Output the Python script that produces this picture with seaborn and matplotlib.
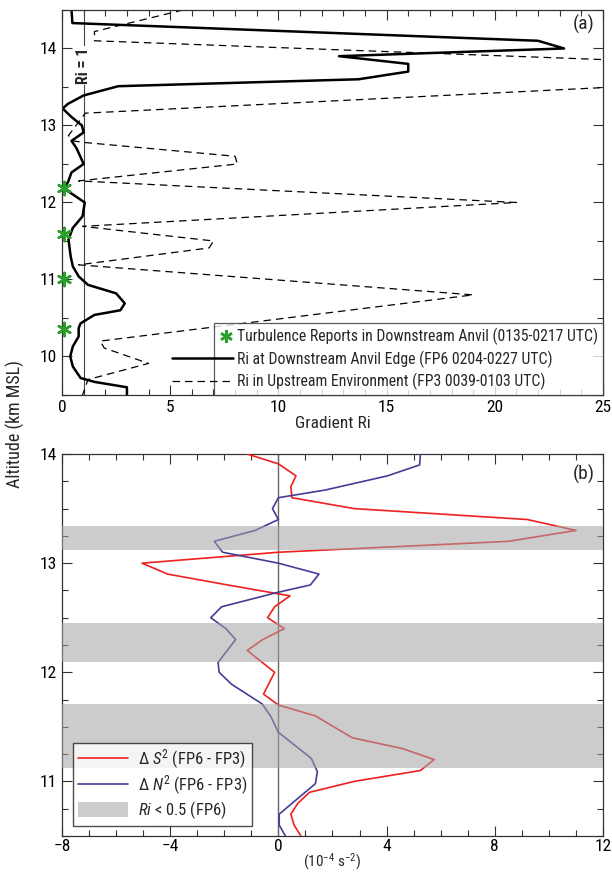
import numpy as np
import pandas as pd
import matplotlib
matplotlib.use("Agg")
import matplotlib.pyplot as plt
from matplotlib.lines import Line2D
from matplotlib.patches import Patch
from matplotlib.ticker import MultipleLocator
from matplotlib.legend_handler import HandlerBase, HandlerLine2D
from matplotlib import font_manager
import seaborn as sns

# ---------------- data: panel (a) ----------------
fp6_ri = [0.44, 0.48, 22.0, 23.2, 12.8, 16.0, 16.0, 13.7, 2.6, 1.0, 0.27, 0.03, 0.44, 0.92, 1.0,
          0.44, 0.68, 1.0, 0.44, 0.27, 0.05, 1.05, 0.95, 0.5, 0.3, 0.4, 0.5, 0.77, 1.2, 2.5, 2.9,
          2.7, 1.5, 0.86, 0.77, 0.77, 0.5, 0.38, 0.5, 0.86, 1.5, 3.0, 3.0]
fp6_alt = [14.5, 14.33, 14.1, 14.0, 13.9, 13.8, 13.7, 13.6, 13.51, 13.39, 13.28, 13.22, 13.11, 13.0, 12.91,
           12.8, 12.7, 12.5, 12.39, 12.26, 12.19, 12.0, 11.82, 11.67, 11.52, 11.3, 11.17, 11.04, 10.93, 10.82, 10.69,
           10.6, 10.54, 10.43, 10.37, 10.26, 10.13, 10.0, 9.87, 9.72, 9.67, 9.6, 9.5]

fp3_ri = [5.6, 1.5, 1.5, 40.0, 1.08, 0.3, 0.5, 1.0, 8.0, 8.1, 0.77, 21.0, 0.95, 7.0, 6.8, 0.77,
          19.0, 1.77, 1.95, 4.0, 1.2, 0.95]
fp3_alt = [14.5, 14.22, 14.1, 13.7, 13.16, 12.87, 12.8, 12.78, 12.6, 12.5, 12.28, 12.0, 11.69, 11.5, 11.41, 11.19,
           10.8, 10.2, 10.11, 9.91, 9.7, 9.5]

turb_ri = [0.1, 0.1, 0.1, 0.1]
turb_alt = [12.19, 11.59, 11.0, 10.36]

# ---------------- data: panel (b) ----------------
ds2_val = [-1.15, 0.0, 0.65, 0.46, 0.5, 2.8, 9.2, 11.0, 8.5, 0.0, -5.04, -4.1, -1.87, 0.43, -0.14, -0.4,
           0.22, -0.58, -1.15, -0.14, -0.55, 0.0, 1.37, 2.73, 4.6, 5.76, 5.25, 2.8, 1.15, 0.72, 0.46, 0.58, 0.83]
ds2_alt = [14.0, 13.91, 13.8, 13.7, 13.6, 13.5, 13.4, 13.3, 13.2, 13.1, 13.0, 12.9, 12.8, 12.7, 12.6, 12.5,
           12.4, 12.3, 12.2, 12.0, 11.8, 11.7, 11.6, 11.4, 11.3, 11.2, 11.1, 11.0, 10.9, 10.8, 10.7, 10.6, 10.5]

dn2_val = [5.25, 5.22, 4.03, 1.73, 0.0, -0.22, 0.0, -0.86, -2.37, -2.06, 0.0, 1.5, 1.18, -0.07, -2.1, -2.5,
           -1.94, -1.58, -2.23, -2.19, -1.73, -0.6, -0.29, 0.0, 1.22, 1.44, 1.37, 0.03, 0.03, 0.26]
dn2_alt = [14.0, 13.9, 13.8, 13.67, 13.6, 13.5, 13.4, 13.3, 13.2, 13.1, 13.0, 12.9, 12.8, 12.73, 12.6, 12.5,
           12.4, 12.3, 12.09, 12.0, 11.89, 11.71, 11.6, 11.45, 11.21, 11.09, 10.98, 10.7, 10.6, 10.5]

band_lo = [13.12, 12.09, 11.12]
band_hi = [13.34, 12.45, 11.71]

# ---------------- style ----------------
sns.set_style("ticks")
names = {f.name for f in font_manager.fontManager.ttflist}
fam = "DejaVu Sans"
for cand in ["Liberation Sans Narrow", "DejaVu Sans Condensed", "Roboto Condensed", "Liberation Sans"]:
    if cand in names:
        fam = cand
        break
plt.rcParams["font.family"] = [fam, "DejaVu Sans"]
plt.rcParams["mathtext.fontset"] = "custom"
plt.rcParams["mathtext.rm"] = fam
plt.rcParams["mathtext.it"] = fam + ":italic"
plt.rcParams["axes.linewidth"] = 0.9


class LongLine(HandlerBase):
    """Legend line that extends to the left of the (short) handle box."""
    def __init__(self, extra, **kw):
        super().__init__(**kw)
        self.extra = extra

    def create_artists(self, legend, orig_handle, xdescent, ydescent, width, height, fontsize, trans):
        y = height / 2 - ydescent
        line = Line2D([-xdescent - self.extra, -xdescent + width], [y, y])
        self.update_prop(line, orig_handle, legend)
        line.set_transform(trans)
        return [line]


class LeftMarker(HandlerLine2D):
    def get_xdata(self, legend, xdescent, ydescent, width, height, fontsize):
        xd = np.array([-xdescent, -xdescent + width])
        return xd, np.array([-xdescent + 0.5 * width])


fig = plt.figure(figsize=(6.12, 8.75), dpi=100)
axa = fig.add_axes([0.1013, 0.5486, 0.884, 0.44])
axb = fig.add_axes([0.1013, 0.0446, 0.884, 0.4365])

TICKFS = 12.5
for ax in (axa, axb):
    ax.tick_params(which="both", direction="in", top=True, right=True, colors="#333333",
                   labelcolor="black", labelsize=TICKFS, width=0.8)
    ax.tick_params(which="major", length=7)
    ax.tick_params(which="minor", length=4)
    for s in ax.spines.values():
        s.set_color("#333333")

# ---------- panel (a) ----------
dfa6 = pd.DataFrame({"ri": fp6_ri, "alt": fp6_alt})
dfa3 = pd.DataFrame({"ri": fp3_ri, "alt": fp3_alt})
sns.lineplot(data=dfa6, x="ri", y="alt", orient="y", sort=False, estimator=None,
             color="black", lw=1.8, ax=axa)
sns.lineplot(data=dfa3, x="ri", y="alt", orient="y", sort=False, estimator=None,
             color="black", lw=0.9, ax=axa, dashes=False, linestyle=(0, (6, 4)))
axa.axvline(1, color="#444444", lw=0.8, zorder=1)
axa.text(1, 13.78, "Ri = 1", rotation=90, ha="center", va="center", fontsize=11.5,
         fontweight="bold", bbox=dict(facecolor="white", edgecolor="none", pad=0.8))
axa.scatter(turb_ri, turb_alt, marker=(6, 2, 0), s=90, color="#2ca02c", lw=1.8, zorder=5, clip_on=False)
axa.set_xlim(0, 25)
axa.set_ylim(9.5, 14.5)
axa.xaxis.set_major_locator(MultipleLocator(5))
axa.xaxis.set_minor_locator(MultipleLocator(1))
axa.yaxis.set_major_locator(MultipleLocator(1))
axa.yaxis.set_minor_locator(MultipleLocator(0.5))
axa.set_xlabel("Gradient Ri", fontsize=12.5, labelpad=1)
axa.set_ylabel("")
axa.text(0.985, 0.987, "(a)", transform=axa.transAxes, ha="right", va="top", fontsize=14)

h_turb = Line2D([], [], marker=(6, 2, 0), color="#2ca02c", lw=0, markersize=9, markeredgewidth=1.8)
h_fp6 = Line2D([], [], color="black", lw=1.8)
h_fp3 = Line2D([], [], color="black", lw=0.9, linestyle=(0, (6, 4)))
la = ["Turbulence Reports in Downstream Anvil (0135-0217 UTC)",
      "Ri at Downstream Anvil Edge (FP6 0204-0227 UTC)",
      "Ri in Upstream Environment (FP3 0039-0103 UTC)"]
lga = axa.legend([h_turb, h_fp6, h_fp3], la, loc="lower right", fontsize=11.3, frameon=True,
                 fancybox=False, borderaxespad=0.0, handlelength=0.9, handletextpad=0.25,
                 labelspacing=0.33, borderpad=0.3, alignment="right",
                 handler_map={h_turb: LeftMarker(numpoints=1),
                              h_fp6: LongLine(34), h_fp3: LongLine(34)})
lga.get_frame().set_edgecolor("#333333")
lga.get_frame().set_linewidth(0.9)

# ---------- panel (b) ----------
dfs = pd.DataFrame({"v": ds2_val, "alt": ds2_alt})
dfn = pd.DataFrame({"v": dn2_val, "alt": dn2_alt})
sns.lineplot(data=dfs, x="v", y="alt", orient="y", sort=False, estimator=None,
             color="#ee2020", lw=1.2, ax=axb, zorder=3)
sns.lineplot(data=dfn, x="v", y="alt", orient="y", sort=False, estimator=None,
             color="#473c98", lw=1.2, ax=axb, zorder=3)
axb.axvline(0, color="#666666", lw=1.0, zorder=2)
for lo, hi in zip(band_lo, band_hi):
    axb.axhspan(lo, hi, facecolor="#a3a3a3", alpha=0.55, edgecolor="none", zorder=4)
axb.set_xlim(-8, 12)
axb.set_ylim(10.5, 14)
axb.xaxis.set_major_locator(MultipleLocator(4))
axb.xaxis.set_minor_locator(MultipleLocator(1))
axb.yaxis.set_major_locator(MultipleLocator(1))
axb.yaxis.set_minor_locator(MultipleLocator(0.25))
axb.tick_params(axis="x", pad=2)
axb.set_xlabel(r"(10$^{-4}$ s$^{-2}$)", fontsize=11, labelpad=-1.5)
axb.set_ylabel("")
axb.text(0.985, 0.971, "(b)", transform=axb.transAxes, ha="right", va="top", fontsize=14)

hb = [Line2D([], [], color="#ee2020", lw=1.2),
      Line2D([], [], color="#473c98", lw=1.2),
      Patch(facecolor="#cccccc", edgecolor="none")]
lb = [r"$\Delta\ S^2$ (FP6 - FP3)", r"$\Delta\ N^2$ (FP6 - FP3)", r"$Ri$ < 0.5 (FP6)"]
lgb = axb.legend(hb, lb, loc="lower left", bbox_to_anchor=(0.02, 0.025), fontsize=12,
                 frameon=True, fancybox=False, borderaxespad=0.0, handlelength=3.0,
                 handleheight=1.0, handletextpad=0.6, labelspacing=0.15, borderpad=0.3)
lgb.get_frame().set_edgecolor("#222222")
lgb.get_frame().set_linewidth(1.0)
lgb.set_zorder(6)

fig.text(0.025, 0.515, "Altitude (km MSL)", rotation=90, ha="center", va="center", fontsize=13)

fig.savefig("out.png", dpi=100)
